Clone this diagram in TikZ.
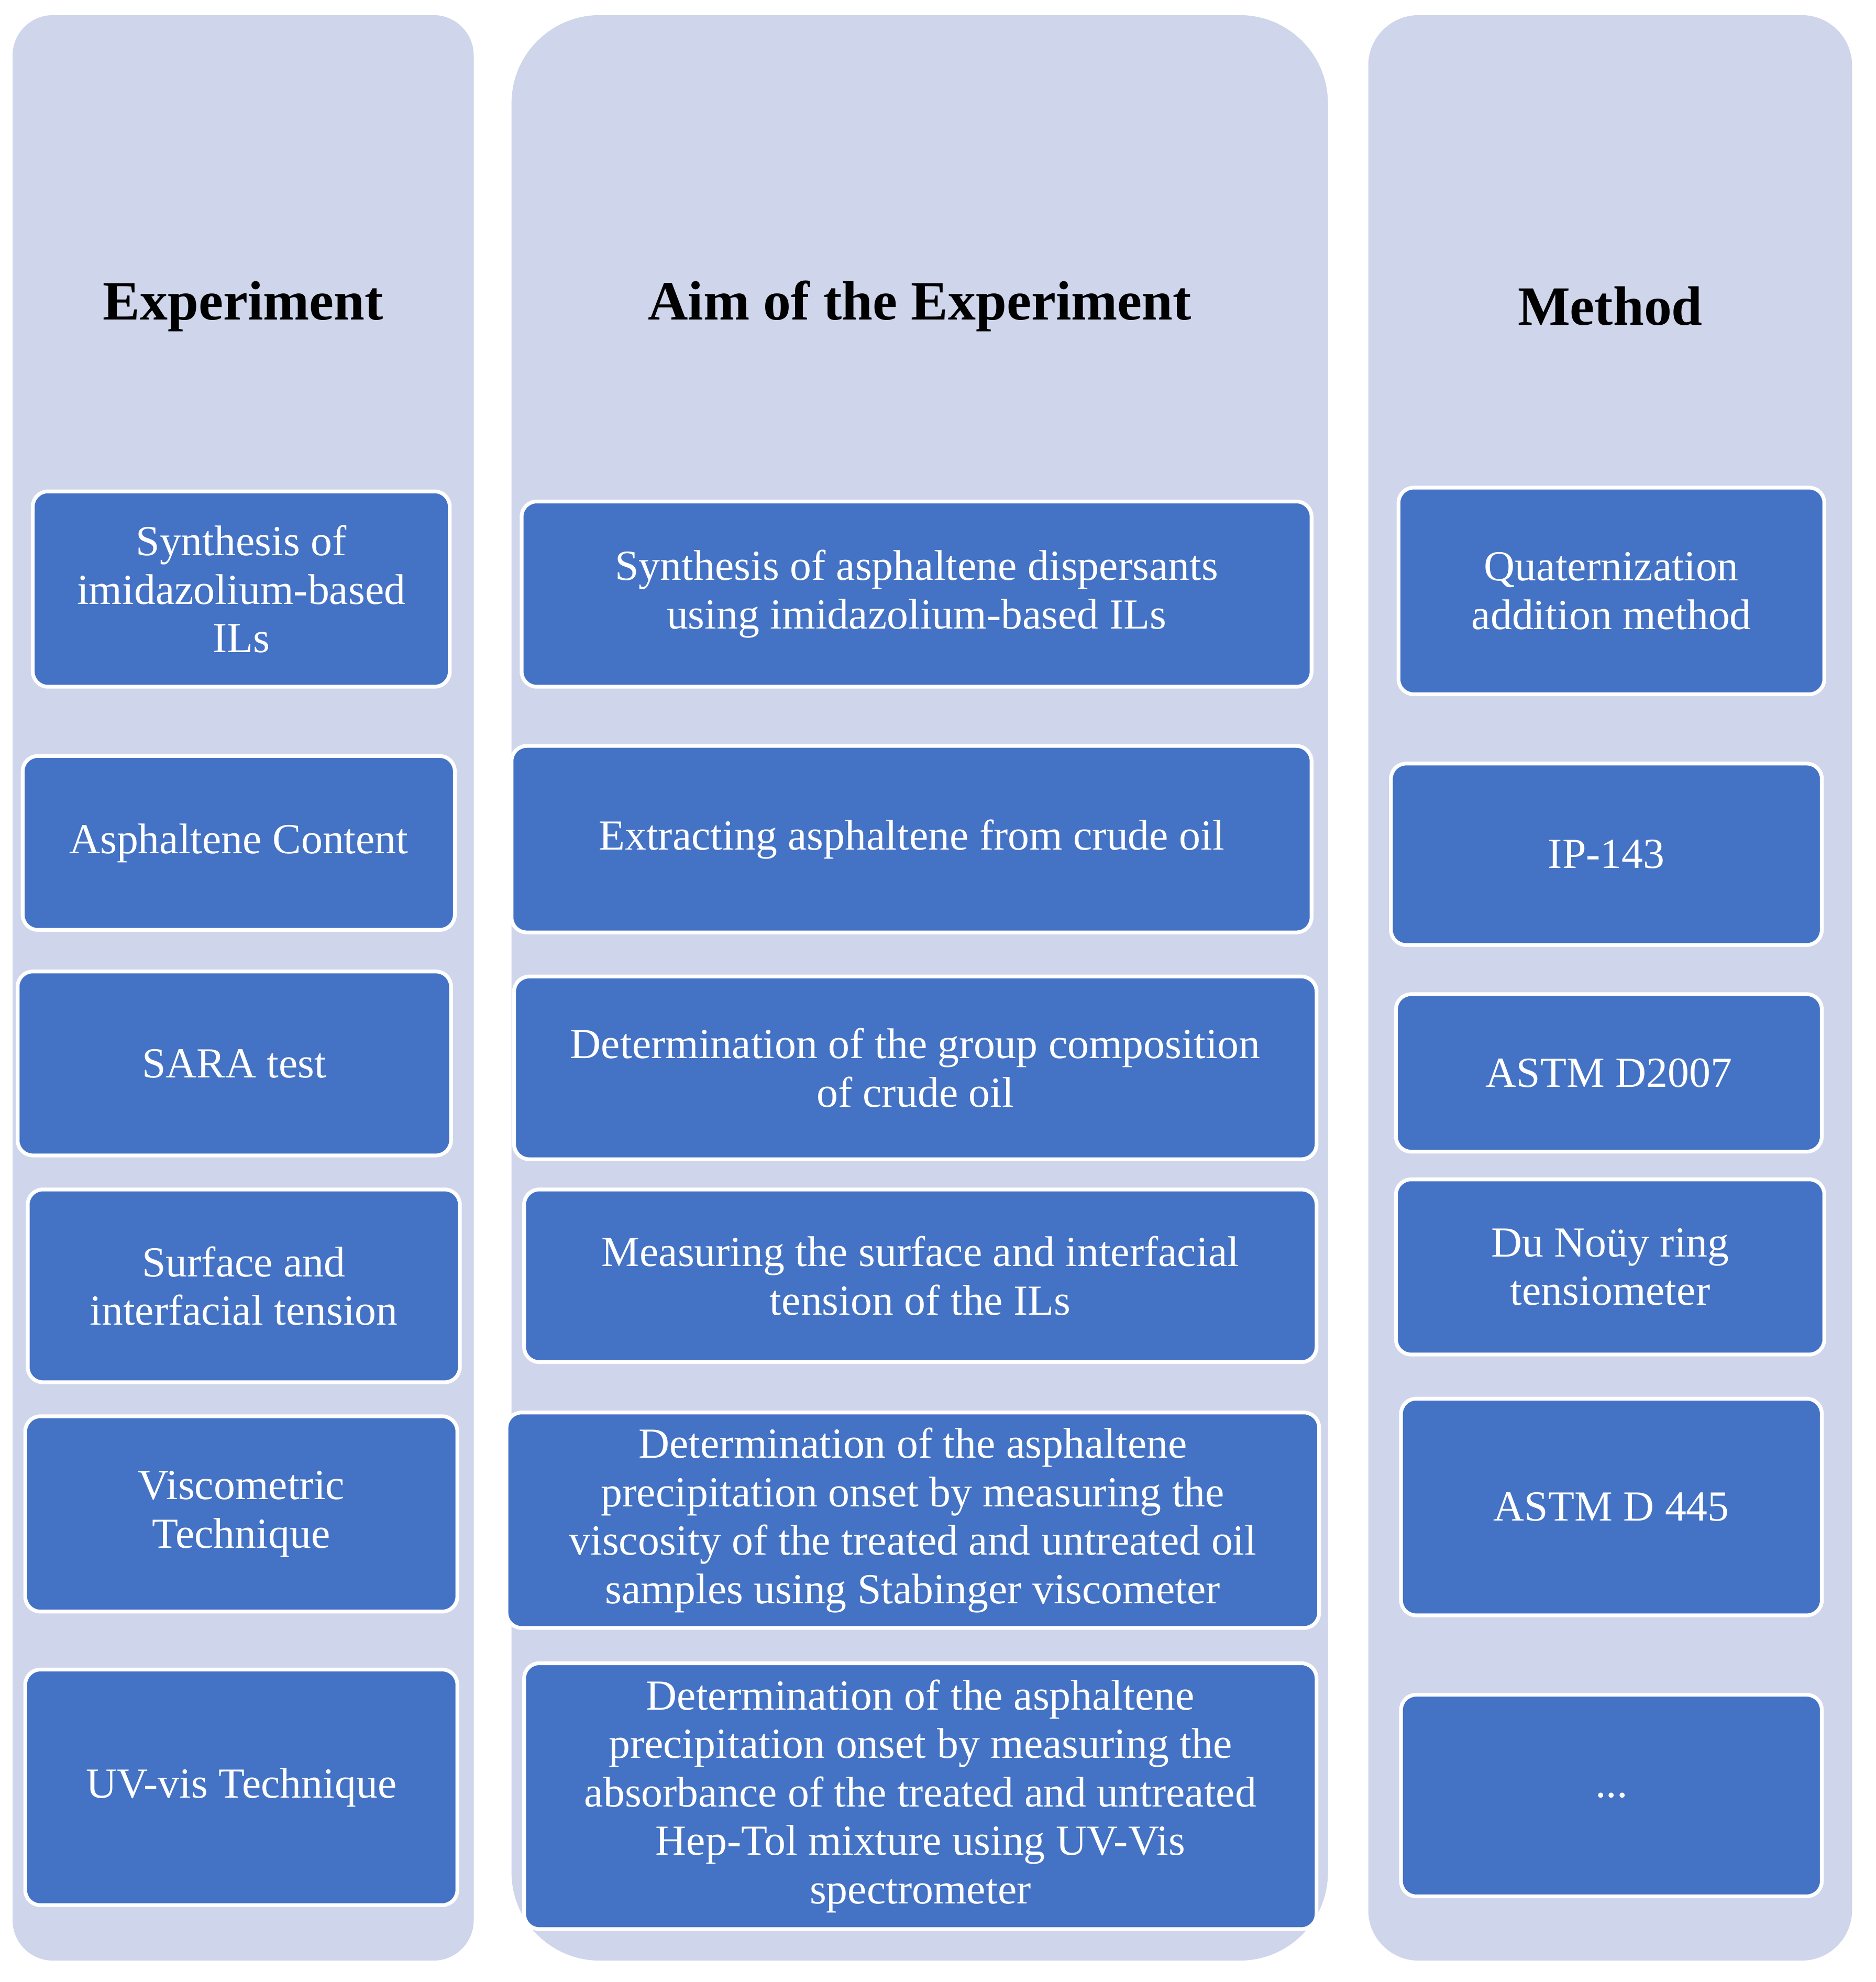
\documentclass[tikz,border=0pt]{standalone}
\usepackage{fontspec}
\setmainfont{Liberation Serif}
\definecolor{lane}{HTML}{CFD5EA}
\definecolor{cell}{HTML}{4472C4}
\tikzset{
  lane/.style={fill=lane,draw=none},
  head/.style={font=\fontsize{44}{50}\selectfont\bfseries},
  box/.style={fill=cell,draw=white,line width=3pt,rounded corners=12pt,
    text=white,align=center,font=\fontsize{34}{38.5}\selectfont,inner sep=0pt},
}
\begin{document}
\begin{tikzpicture}[x=1pt,y=-1pt]
\useasboundingbox (0,0) rectangle (1489,1573);

% Lanes
\fill[lane,rounded corners=32pt] (10,12) rectangle (376,1556);
\fill[lane,rounded corners=70pt] (406,12) rectangle (1054,1556);
\fill[lane,rounded corners=40pt] (1086,12) rectangle (1470,1556);

\node[head] (hexp) at (193,243) {Experiment};
\node[head] (haim) at (730,243) {Aim of the Experiment};
\node[head] (hmet) at (1278,243) {Method};

% Experiment
\node[box,minimum width=331pt,minimum height=155pt] (e1) at (191.5,467.5) {Synthesis of\\imidazolium-based\\ILs};
\node[box,minimum width=343pt,minimum height=138pt] (e2) at (189.5,669) {Asphaltene Content};
\node[box,minimum width=344pt,minimum height=146pt] (e3) at (186,844) {SARA test};
\node[box,minimum width=343pt,minimum height=153pt] (e4) at (193.5,1020.5) {Surface and\\interfacial tension};
\node[box,minimum width=343pt,minimum height=155pt] (e5) at (191.5,1201.5) {Viscometric\\Technique};
\node[box,minimum width=343pt,minimum height=187pt] (e6) at (191.5,1418.5) {UV-vis Technique};

% Aim
\node[box,minimum width=627pt,minimum height=147pt] (a1) at (727.5,471.5) {Synthesis of asphaltene dispersants\\using imidazolium-based ILs};
\node[box,minimum width=635pt,minimum height=148pt] (a2) at (723.5,666) {Extracting asphaltene from crude oil};
\node[box,minimum width=637pt,minimum height=145pt] (a3) at (726.5,847.5) {Determination of the group composition\\of crude oil};
\node[box,minimum width=629pt,minimum height=137pt] (a4) at (730.5,1012.5) {Measuring the surface and interfacial\\tension of the ILs};
\node[box,minimum width=645pt,minimum height=171pt] (a5) at (724.5,1206.5) {Determination of the asphaltene\\precipitation onset by measuring the\\viscosity of the treated and untreated oil\\samples using Stabinger viscometer};
\node[box,minimum width=629pt,minimum height=211pt] (a6) at (730.5,1425.5) {Determination of the asphaltene\\precipitation onset by measuring the\\absorbance of the treated and untreated\\Hep-Tol mixture using UV-Vis\\spectrometer};

% Method
\node[box,minimum width=338pt,minimum height=164pt] (m1) at (1279,469) {Quaternization\\addition method};
\node[box,minimum width=342pt,minimum height=144pt] (m2) at (1275,678) {IP-143};
\node[box,minimum width=338pt,minimum height=125pt] (m3) at (1277,851.5) {ASTM D2007};
\node[box,minimum width=340pt,minimum height=139pt] (m4) at (1278,1005.5) {Du Noüy ring\\tensiometer};
\node[box,minimum width=334pt,minimum height=172pt] (m5) at (1279,1196) {ASTM D 445};
\node[box,minimum width=334pt,minimum height=160pt] (m6) at (1279,1425) {...};

\end{tikzpicture}
\end{document}
